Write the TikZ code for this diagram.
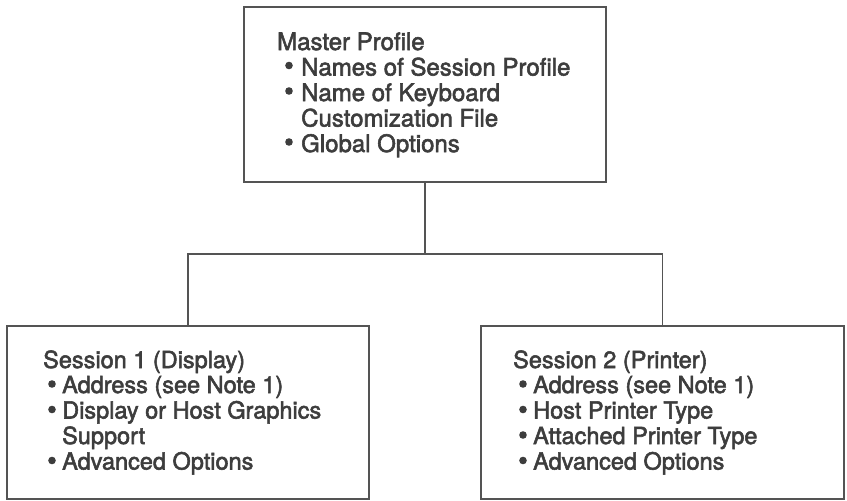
\documentclass[tikz,border=0pt]{standalone}
\usepackage{fontspec}
\setmainfont{TeX Gyre Heros}
\definecolor{linec}{gray}{0.33}
\definecolor{txtc}{gray}{0.24}
\newcommand\hvy[1]{\special{pdf:literal direct 2 Tr 0.55 w}#1\special{pdf:literal direct 0 Tr}}
\begin{document}
\begin{tikzpicture}[x=1pt,y=-1pt,
  box/.style={draw=linec, line width=1.7pt, inner sep=0pt, outer sep=0pt, anchor=north west},
  conn/.style={draw=linec, line width=1.7pt},
  big/.style={anchor=base west, inner sep=0pt, text=txtc, font=\fontsize{24}{24}\selectfont},
  small/.style={anchor=base west, inner sep=0pt, text=txtc, font=\fontsize{23.5}{24}\selectfont},
  dot/.style={fill=txtc}]
\useasboundingbox (0,0) rectangle (847,501);
% boxes
\node[box, minimum width=362pt, minimum height=175pt] (master) at (244,7) {};
\node[box, minimum width=362pt, minimum height=173pt] (s1) at (7,326) {};
\node[box, minimum width=363pt, minimum height=173pt] (s2) at (481,326) {};
% connectors
\coordinate (bar) at (0,254);
\draw[conn] (master.south) -- (master.south |- bar);
\draw[conn] (s1.north) -- (s1.north |- bar) -| (s2.north);
% master text
\node[big] (m0) at (277,50) {\hvy{Master Profile}};
\node[big] (m1) at (301,75.5) {\hvy{Names of Session Profile}};
\node[big] (m2) at (301,101) {\hvy{Name of Keyboard}};
\node[big] (m3) at (301,126.5) {\hvy{Customization File}};
\node[big] (m4) at (301,152) {\hvy{Global Options}};
\fill[dot] (289,65.5) circle (3.8);
\fill[dot] (289,91) circle (3.8);
\fill[dot] (289,142) circle (3.8);
% session 1 text
\node[small] (a0) at (43,368) {\hvy{Session 1 (Display)}};
\node[small] (a1) at (62,393) {\hvy{Address (see Note 1)}};
\node[small] (a2) at (62,418.5) {\hvy{Display or Host Graphics}};
\node[small] (a3) at (62,444) {\hvy{Support}};
\node[small] (a4) at (62,469.5) {\hvy{Advanced Options}};
\fill[dot] (52,384) circle (3.8);
\fill[dot] (52,409.5) circle (3.8);
\fill[dot] (52,460.5) circle (3.8);
% session 2 text
\node[small] (b0) at (513,368) {\hvy{Session 2 (Printer)}};
\node[small] (b1) at (533,393) {\hvy{Address (see Note 1)}};
\node[small] (b2) at (533,418.5) {\hvy{Host Printer Type}};
\node[small] (b3) at (533,444) {\hvy{Attached Printer Type}};
\node[small] (b4) at (533,469.5) {\hvy{Advanced Options}};
\fill[dot] (523,384) circle (3.8);
\fill[dot] (523,409.5) circle (3.8);
\fill[dot] (523,435) circle (3.8);
\fill[dot] (523,460.5) circle (3.8);
\end{tikzpicture}
\end{document}
